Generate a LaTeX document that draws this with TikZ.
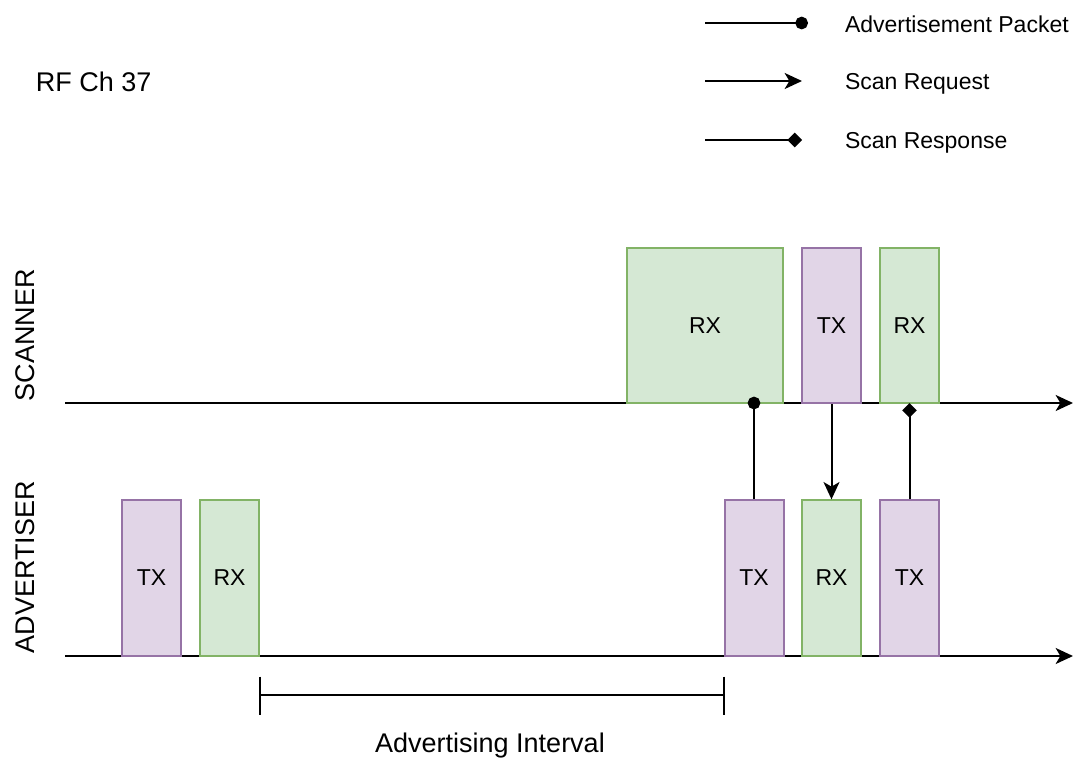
\documentclass[tikz,border=0pt]{standalone}
\usepackage{fontspec}
\setmainfont{Liberation Sans}
\usetikzlibrary{arrows.meta}
\definecolor{txfill}{HTML}{E1D5E7}
\definecolor{txdraw}{HTML}{9673A6}
\definecolor{rxfill}{HTML}{D5E8D4}
\definecolor{rxdraw}{HTML}{82B366}
\begin{document}
\begin{tikzpicture}[x=0.75pt,y=-0.75pt,line width=1.5pt,
 slot/.style={draw,line width=1.5pt,inner sep=0pt,minimum width=44.25pt,minimum height=116.5pt,font=\fontsize{17.25}{20}\selectfont},
 txslot/.style={slot,fill=txfill,draw=txdraw},
 rxslot/.style={slot,fill=rxfill,draw=rxdraw},
 label/.style={inner sep=0pt,font=\fontsize{17.25}{20}\selectfont},
 biglabel/.style={inner sep=0pt,font=\fontsize{20.25}{24}\selectfont},
 axis/.style={-{Stealth[length=13pt,width=12pt,inset=3.5pt]}}]
\useasboundingbox (0,0) rectangle (1075,758);
\node[biglabel,anchor=west] (rfch) at (35,82) {RF Ch 37};
\node[biglabel,rotate=90] (scanner) at (25,335) {SCANNER};
\node[biglabel,rotate=90] (advertiser) at (25,567) {ADVERTISER};

\coordinate (scstart) at (65,403);
\coordinate (scend) at (1073,403);
\coordinate (adstart) at (65,656);
\coordinate (adend) at (1073,656);
\draw[axis] (scstart) -- (scend);
\draw[axis] (adstart) -- (adend);

\node[rxslot,minimum width=117pt] (srx1) at (705,325.5) {RX};
\node[txslot] (stx1) at (831.5,325.5) {TX};
\node[rxslot] (srx2) at (909.5,325.5) {RX};

\node[txslot] (atx1) at (151.5,578) {TX};
\node[rxslot] (arx1) at (229.5,578) {RX};
\node[txslot] (atx2) at (754,578) {TX};
\node[rxslot] (arx2) at (831.5,578) {RX};
\node[txslot] (atx3) at (909.5,578) {TX};

\draw[-{Circle[length=9.5pt]},shorten >=-4.75pt] (atx2.north) -- (atx2.north |- scstart);
\draw[axis] (stx1.south) -- (arx2.north);
\draw[-{Diamond[length=11pt,width=11pt]}] (atx3.north) -- (atx3.north |- scstart);

\coordinate (ivstart) at (arx1.south east);
\coordinate (ivend) at (atx2.south west);
\draw ([yshift=-15pt]ivstart) -- ([yshift=-43.5pt]ivstart);
\draw ([yshift=-15pt]ivend) -- ([yshift=-43.5pt]ivend);
\draw ([yshift=-28.5pt]ivstart) -- ([yshift=-28.5pt]ivend);
\node[biglabel] (interval) at (490,746) {Advertising Interval};

\coordinate (lg1a) at (705,23);
\coordinate (lg1b) at (808,23);
\coordinate (lg2a) at (705,81);
\coordinate (lg2b) at (802,81);
\coordinate (lg3a) at (705,140);
\coordinate (lg3b) at (802,140);
\draw[-{Circle[length=9.5pt]}] (lg1a) -- (lg1b);
\draw[axis] (lg2a) -- (lg2b);
\draw[-{Diamond[length=11pt,width=11pt]}] (lg3a) -- (lg3b);
\node[label,anchor=west] (lgpacket) at (844,24) {Advertisement Packet};
\node[label,anchor=west] (lgrequest) at (844,83.5) {Scan Request};
\node[label,anchor=west] (lgresponse) at (844,142.5) {Scan Response};
\end{tikzpicture}
\end{document}
